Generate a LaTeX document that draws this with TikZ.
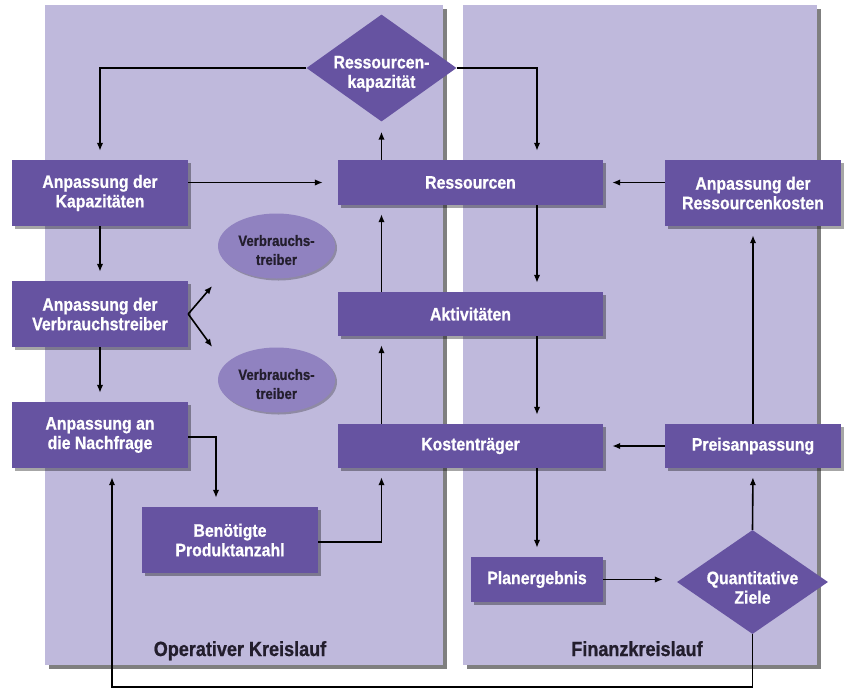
\documentclass[tikz,border=0pt]{standalone}
\usepackage{fontspec}
\setmainfont{Liberation Sans}[FakeStretch=0.88, BoldFeatures={FakeBold=0.8}]
\usetikzlibrary{shapes.geometric,shadows,arrows.meta,calc}
\definecolor{panelc}{RGB}{191,185,220}
\definecolor{boxc}{RGB}{102,83,161}
\definecolor{ellc}{RGB}{144,130,192}
\definecolor{txtd}{RGB}{35,30,45}
\newcommand{\lowerstrut}[1]{\rule{0pt}{#1}}
\begin{document}
\begin{tikzpicture}[x=1pt,y=-1pt,
  panel/.style={fill=panelc, draw=none, drop shadow={shadow xshift=4pt,shadow yshift=-4pt,fill=black,opacity=0.5}},
  box/.style={rectangle, draw=none, fill=boxc, text=white, align=center, inner sep=0pt,
    font=\fontsize{18}{19.5}\selectfont\bfseries,
    drop shadow={shadow xshift=3pt,shadow yshift=-3pt,fill=black,opacity=0.35}},
  dia/.style={diamond, aspect=1.4, draw=none, fill=boxc, text=white, align=center, inner sep=-8pt,
    font=\fontsize{18}{19.5}\selectfont\bfseries},
  ell/.style={ellipse, draw=none, fill=ellc, text=txtd, align=center, inner sep=-8pt,
    minimum width=117pt, minimum height=65pt,
    font=\fontsize{15}{19}\selectfont\bfseries,
    drop shadow={shadow xshift=2pt,shadow yshift=-2pt,fill=black,opacity=0.25}},
  lbl/.style={text=txtd, anchor=base, inner sep=0pt, font=\fontsize{20.5}{22}\selectfont\bfseries},
  arr/.style={draw=black, line width=1.6pt, -{Latex[length=8pt,width=6.5pt]}, shorten >=9pt}
]
\useasboundingbox (0,0) rectangle (847,689);
% panels
\fill[panel] (45,5) rectangle (443,665);
\fill[panel] (463,5) rectangle (817,665);
\node[lbl] (lop) at (240,656) {Operativer Kreislauf};
\node[lbl] (lfin) at (637,656) {Finanzkreislauf};
% column coordinates
\coordinate (cL) at (381.5,0);
\coordinate (cR) at (537,0);
\coordinate (lp) at (112,687);
% nodes
\node[dia, minimum width=150pt, minimum height=107pt] (rk) at (381.5,68) {\lowerstrut{24pt}Ressourcen-\\kapazität};
\node[box, minimum width=176pt, minimum height=66pt] (kap) at (100,193) {Anpassung der\\Kapazitäten};
\node[box, minimum width=265pt, minimum height=45pt] (res) at (470.5,182.5) {Ressourcen};
\node[box, minimum width=176pt, minimum height=66pt] (rkost) at (753,193) {Anpassung der\\Ressourcenkosten};
\node[ell] (e1) at (276.5,246) {\lowerstrut{19pt}Verbrauchs-\\treiber};
\node[box, minimum width=176pt, minimum height=66pt] (vt) at (100,314) {Anpassung der\\Verbrauchstreiber};
\node[box, minimum width=265pt, minimum height=44pt] (akt) at (470.5,314) {Aktivitäten};
\node[ell] (e2) at (276.5,380) {\lowerstrut{19pt}Verbrauchs-\\treiber};
\node[box, minimum width=176pt, minimum height=66pt] (nach) at (100,435) {Anpassung an\\die Nachfrage};
\node[box, minimum width=265pt, minimum height=44pt] (kt) at (470.5,446) {Kostenträger};
\node[box, minimum width=176pt, minimum height=44pt] (pa) at (753,446) {Preisanpassung};
\node[box, minimum width=176pt, minimum height=66pt] (ben) at (230,540) {Benötigte\\Produktanzahl};
\node[box, minimum width=132pt, minimum height=45pt] (plan) at (537,579.5) {Planergebnis};
\node[dia, minimum width=151pt, minimum height=104pt] (qz) at (752.5,582) {\lowerstrut{24pt}Quantitative\\Ziele};
% connectors
\draw[arr] (rk.west) -| (kap.north);
\draw[arr] (rk.east) -| (res.north -| cR);
\draw[arr, shorten >=10pt] (res.north -| cL) -- (rk.south);
\draw[arr, shorten >=15pt] (kap.east |- res.west) -- (res.west);
\draw[arr] (rkost.west |- res.east) -- (res.east);
\draw[arr] (kap.south) -- (vt.north);
\draw[arr, shorten >=0pt] (vt.east) -- ([shift={(24,-28)}]vt.east);
\draw[arr, shorten >=0pt] (vt.east) -- ([shift={(24,33)}]vt.east);
\draw[arr] (vt.south) -- (nach.north);
\draw[arr] (akt.north -| cL) -- (res.south -| cL);
\draw[arr] (res.south -| cR) -- (akt.north -| cR);
\draw[arr] (akt.south -| cR) -- (kt.north -| cR);
\draw[arr] (kt.north -| cL) -- (akt.south -| cL);
\draw[arr] ([yshift=-2pt]nach.east) -| ([xshift=-14pt]ben.north);
\draw[arr] ([yshift=-2pt]ben.east) -| (kt.south -| cL);
\draw[arr] (pa.west) -- (kt.east);
\draw[arr] (kt.south -| cR) -- (plan.north);
\draw[arr, shorten >=14pt] (plan.east) -- (plan.east -| qz.west);
\draw[arr] (qz.north) -- (pa.south);
\draw[arr] (pa.north) -- (rkost.south);
\draw[arr] (qz.south) |- (lp) -- (nach.south -| lp);
\end{tikzpicture}
\end{document}
